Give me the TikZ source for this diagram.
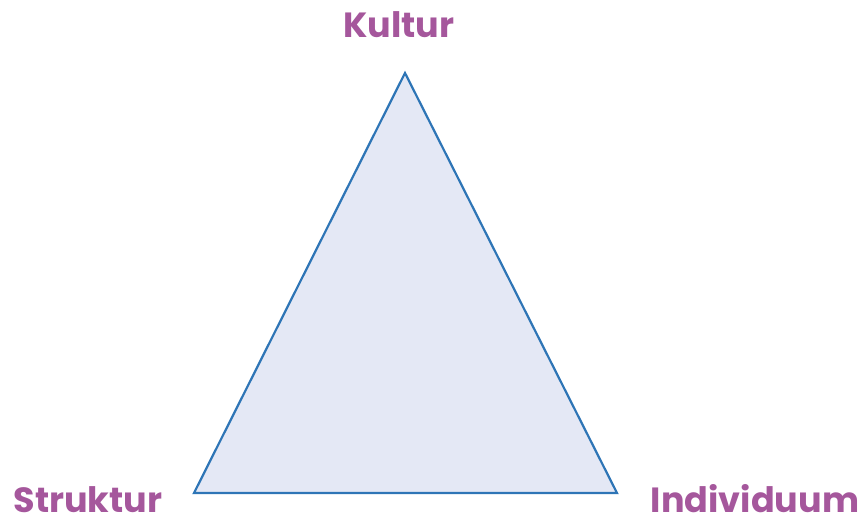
\documentclass[tikz,border=0pt]{standalone}
\usepackage{fontspec}
\setmainfont{Poppins}
\usepackage{xcolor}
\usepackage{tikz}
\usetikzlibrary{positioning}
\definecolor{edgeblue}{HTML}{2E75B6}
\definecolor{facefill}{HTML}{E4E8F5}
\definecolor{lblpurple}{HTML}{A5579C}

\begin{document}
\begin{tikzpicture}[x=1pt, y=1pt,
  tri/.style = {draw=edgeblue, line width=2.2pt, fill=facefill, line join=miter},
  lbl/.style = {text=lblpurple, font=\fontsize{35}{40}\selectfont\bfseries,
                inner sep=0pt, text depth=0pt, anchor=base}
]
\useasboundingbox (0,0) rectangle (864,521);
\coordinate (top)   at (405,448);
\coordinate (left)  at (194,28);
\coordinate (right) at (617,28);
\draw[tri] (top) -- (left) -- (right) -- cycle;
\node[lbl] (kultur)     at (399,483) {Kultur};
\node[lbl] (struktur)   at (88,8)    {Struktur};
\node[lbl] (individuum) at (755,8)   {Individuum};
\end{tikzpicture}
\end{document}
